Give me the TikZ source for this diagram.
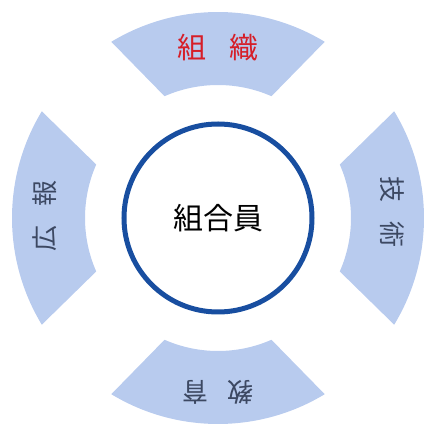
\documentclass[tikz,border=0pt]{standalone}
\usepackage{fontspec}
\newfontfamily\cjk{Noto Sans CJK JP}
\usepackage{tikz}

\definecolor{ringblue}{RGB}{24,78,160}
\definecolor{segblue}{RGB}{184,203,238}
\definecolor{labred}{RGB}{214,30,40}
\definecolor{labgray}{RGB}{60,72,98}

\begin{document}
\begin{tikzpicture}[x=1pt, y=1pt,
    segment/.style={fill=segblue, draw=none},
    toplabel/.style={font=\cjk\fontsize{29}{29}\selectfont, text=labred},
    sidelabel/.style={font=\cjk\fontsize{26}{26}\selectfont, text=labgray},
    member/.style={circle, draw=ringblue, line width=5pt, fill=white,
        minimum size=188pt, inner sep=0pt,
        font=\cjk\fontsize{30}{30}\selectfont}]
    \useasboundingbox (-218,-209) rectangle (210,218);

    % four segments of the ring, cut along the diagonals
    \fill[segment] (58.8:206) arc[start angle=58.8, end angle=121.2, radius=206]
        -- (113.7:133) arc[start angle=113.7, end angle=66.3, radius=133] -- cycle;
    \fill[segment] (-31.2:206) arc[start angle=-31.2, end angle=31.2, radius=206]
        -- (23.7:133) arc[start angle=23.7, end angle=-23.7, radius=133] -- cycle;
    \fill[segment] (238.8:206) arc[start angle=238.8, end angle=301.2, radius=206]
        -- (293.7:133) arc[start angle=293.7, end angle=246.3, radius=133] -- cycle;
    \fill[segment] (148.8:206) arc[start angle=148.8, end angle=211.2, radius=206]
        -- (203.7:133) arc[start angle=203.7, end angle=156.3, radius=133] -- cycle;

    \node[toplabel] (org) at (0,170) {組\hspace{0.8em}織};
    \node[sidelabel, rotate=-90] (tech) at (174,6) {技\hspace{0.75em}術};
    \node[sidelabel, rotate=180] (edu) at (0,-174) {教\hspace{0.75em}育};
    \node[sidelabel, rotate=90] (pr) at (-173,2) {広\hspace{0.75em}報};

    \node[member] (center) at (0,0) {組合員};
\end{tikzpicture}
\end{document}
